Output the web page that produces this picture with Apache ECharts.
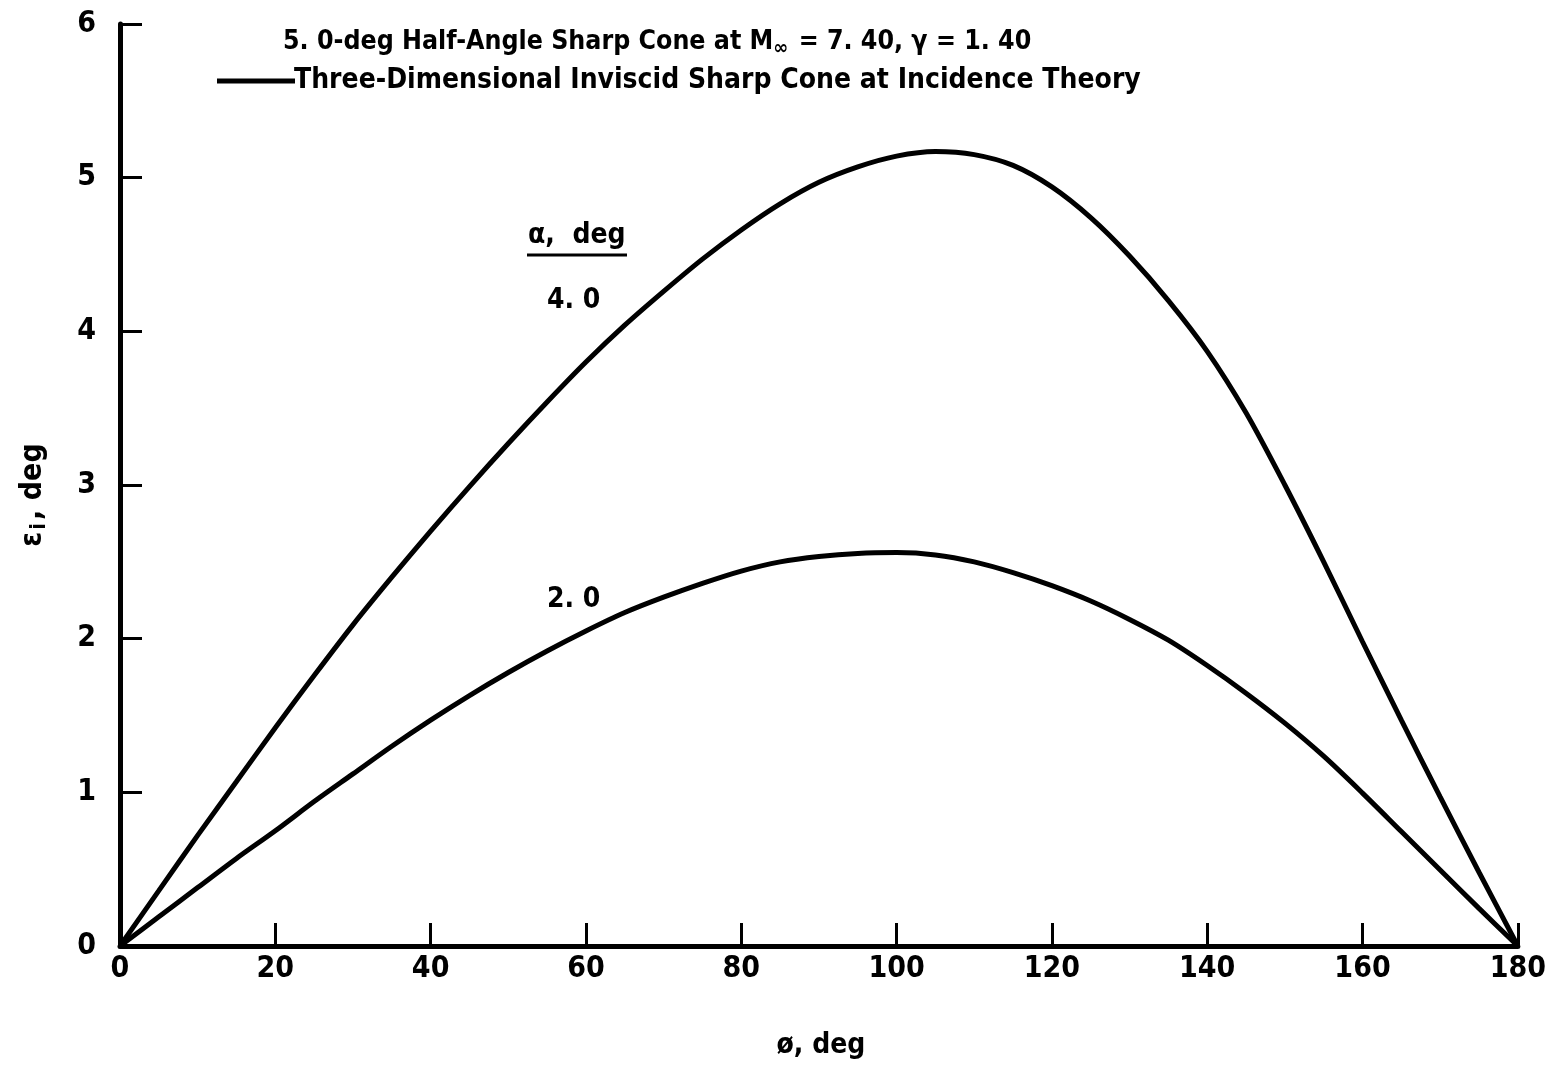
<!DOCTYPE html>
<html>
<head>
<meta charset="utf-8">
<script src="https://cdn.jsdelivr.net/npm/echarts@6/dist/echarts.min.js"></script>
<style>
html,body{margin:0;padding:0;background:#fff;}
#chart{width:1549px;height:1065px;}
</style>
</head>
<body>
<div id="chart"></div>
<script>
// ---- data ----
const phi = [0,5,10,15,20,25,30,35,40,45,50,55,60,65,70,75,80,85,90,95,100,105,110,115,120,125,130,135,140,145,150,155,160,165,170,175,180];
const eps_alpha4 = [0,0.36,0.72,1.07,1.42,1.76,2.09,2.40,2.70,2.99,3.27,3.54,3.80,4.04,4.26,4.47,4.66,4.83,4.97,5.07,5.14,5.17,5.15,5.08,4.94,4.74,4.49,4.20,3.87,3.47,3.00,2.50,1.98,1.47,0.97,0.48,0];
const eps_alpha2 = [0,0.19,0.38,0.57,0.75,0.94,1.12,1.30,1.47,1.63,1.78,1.92,2.05,2.17,2.27,2.36,2.44,2.50,2.535,2.555,2.56,2.545,2.50,2.43,2.345,2.245,2.125,1.99,1.825,1.645,1.45,1.235,0.995,0.745,0.495,0.245,0];
const xTicks = [0,20,40,60,80,100,120,140,160,180];
const yTicks = [0,1,2,3,4,5,6];
const alphaLabels = ['4. 0','2. 0'];
const theoryName = 'Three-Dimensional Inviscid Sharp Cone at Incidence Theory';

const FONT = '"Liberation Sans Narrow","DejaVu Sans Condensed",sans-serif';

function pairs(xs, ys){ return xs.map((x,i)=>[x, ys[i]]); }

const chart = echarts.init(document.getElementById('chart'), null, {renderer:'canvas'});
const gridLeft = 120, gridTop = 24, gridW = 1400, gridH = 938;

chart.setOption({
  backgroundColor:'#fff',
  animation:false,
  grid:{left:gridLeft, top:gridTop, width:gridW, height:gridH, containLabel:false},
  legend:{
    data:[{name:theoryName, icon:'rect'}],
    left:212, top:62,
    itemWidth:78, itemHeight:5, itemGap:0,
    textStyle:{fontFamily:FONT, fontWeight:'bold', fontSize:28, color:'#000', padding:[0,0,0,-6]},
    selectedMode:false
  },
  xAxis:{
    type:'value', min:0, max:180, interval:20,
    name:'ø, deg', nameLocation:'middle', nameGap:86,
    nameTextStyle:{fontFamily:FONT, fontWeight:'bold', fontSize:28, color:'#000', padding:[0,0,0,4]},
    axisLine:{show:true, onZero:false, lineStyle:{color:'#000', width:5}},
    axisTick:{show:true, inside:true, length:23, lineStyle:{color:'#000', width:3}},
    axisLabel:{fontFamily:FONT, fontWeight:'bold', fontSize:30, color:'#000', margin:8,
      formatter:v=> xTicks.includes(v) ? String(v) : ''},
    splitLine:{show:false}
  },
  yAxis:{
    type:'value', min:0, max:6, interval:1,
    name:'{e|ε}{s|i}{e|, deg}', nameLocation:'middle', nameGap:70,
    nameTextStyle:{fontFamily:FONT, fontWeight:'bold', fontSize:30, color:'#000', padding:[0,0,0,-20],
      rich:{e:{fontFamily:FONT, fontWeight:'bold', fontSize:30, color:'#000'},
            s:{fontFamily:FONT, fontWeight:'bold', fontSize:22, color:'#000', padding:[12,3,0,2]}}},
    axisLine:{show:true, onZero:false, lineStyle:{color:'#000', width:5}},
    axisTick:{show:true, inside:true, length:22, lineStyle:{color:'#000', width:3}},
    axisLabel:{fontFamily:FONT, fontWeight:'bold', fontSize:30, color:'#000', margin:24,
      formatter:v=> yTicks.includes(v) ? String(v) : ''},
    splitLine:{show:false}
  },
  series:[
    {name:theoryName, type:'line', data:pairs(phi, eps_alpha4), smooth:0.3, showSymbol:false,
     lineStyle:{color:'#000', width:5}, itemStyle:{color:'#000'}},
    {name:theoryName, type:'line', data:pairs(phi, eps_alpha2), smooth:0.3, showSymbol:false,
     lineStyle:{color:'#000', width:5}, itemStyle:{color:'#000'}}
  ],
  graphic:[
    {type:'text', left:283, top:29, style:{
      text:'{t|5. 0-deg Half-Angle Sharp Cone at M}{s|∞}{t| = 7. 40, γ = 1. 40}',
      rich:{t:{fontFamily:FONT, fontWeight:'bold', fontSize:26.5, fill:'#000'},
            s:{fontFamily:FONT, fontWeight:'bold', fontSize:20, fill:'#000', padding:[12,2,0,0]}}}},
    {type:'text', left:528, top:222, style:{text:'α,  deg', fontFamily:FONT, fontWeight:'bold', fontSize:28, fill:'#000'}},
    {type:'line', shape:{x1:527, y1:255, x2:627, y2:255}, style:{stroke:'#000', lineWidth:3}},
    {type:'text', left:547, top:287, style:{text:alphaLabels[0], fontFamily:FONT, fontWeight:'bold', fontSize:28, fill:'#000'}},
    {type:'text', left:547, top:586, style:{text:alphaLabels[1], fontFamily:FONT, fontWeight:'bold', fontSize:28, fill:'#000'}}
  ]
});
</script>
</body>
</html>
